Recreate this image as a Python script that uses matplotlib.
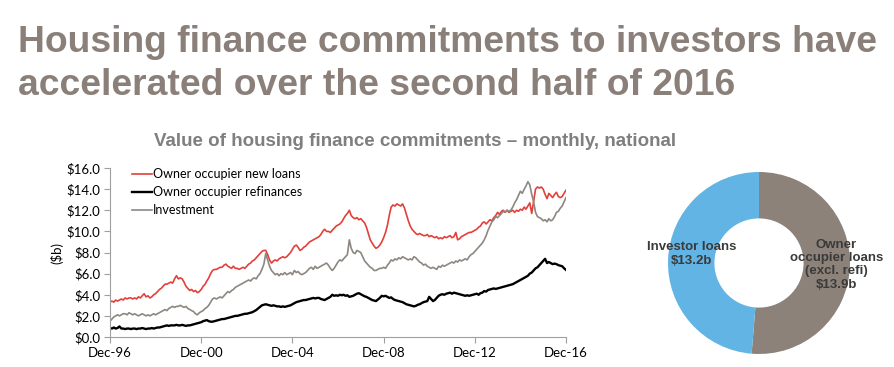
import pandas as pd
import matplotlib.pyplot as plt
import matplotlib.dates as mdates

# monthly values, $b, Dec-96 .. Dec-16 (one row per year, Jan..Dec)
owner_new = [3.3,
    3.4, 3.3, 3.5, 3.4, 3.5, 3.6, 3.5, 3.7, 3.6, 3.7, 3.7, 3.6,
    3.7, 3.6, 3.8, 3.7, 3.9, 4.1, 3.8, 3.9, 3.7, 3.8, 4.0, 4.1,
    4.3, 4.5, 4.6, 4.8, 5.0, 5.0, 5.1, 5.2, 5.1, 5.5, 5.8, 5.5,
    5.6, 5.5, 5.2, 4.8, 4.6, 4.4, 4.5, 4.3, 4.4, 4.2, 4.3, 4.5,
    4.8, 5.0, 5.3, 5.6, 6.0, 6.3, 6.4, 6.4, 6.5, 6.6, 6.6, 6.8,
    6.9, 6.7, 6.6, 6.5, 6.7, 6.5, 6.5, 6.4, 6.5, 6.6, 6.5, 6.7,
    6.9, 7.0, 7.2, 7.3, 7.5, 7.7, 7.9, 8.1, 8.2, 8.2, 7.8, 7.3,
    7.0, 7.2, 7.3, 7.2, 7.4, 7.5, 7.6, 7.5, 7.6, 7.8, 8.0, 8.3,
    8.6, 8.7, 8.5, 8.2, 8.3, 8.5, 8.6, 8.8, 9.0, 9.1, 9.2, 9.3,
    9.4, 9.5, 9.7, 10.0, 10.2, 10.0, 10.0, 9.9, 10.1, 10.3, 10.5, 10.6,
    10.7, 10.9, 11.2, 11.5, 11.7, 12.0, 11.5, 11.3, 11.2, 11.3, 11.1, 11.2,
    11.0, 10.8, 10.4, 9.8, 9.2, 8.9, 8.6, 8.4, 8.5, 8.7, 9.0, 9.4,
    9.9, 10.6, 11.5, 12.3, 12.5, 12.4, 12.6, 12.5, 12.4, 12.6, 12.2, 11.6,
    11.0, 10.5, 10.2, 10.0, 9.8, 9.7, 9.8, 9.7, 9.6, 9.6, 9.7, 9.5,
    9.6, 9.5, 9.4, 9.5, 9.3, 9.4, 9.3, 9.5, 9.4, 9.5, 9.6, 9.4,
    9.5, 9.9, 9.2, 9.3, 9.5, 9.6, 9.7, 9.8, 9.9, 9.9, 10.0, 10.1,
    10.2, 10.4, 10.5, 10.8, 10.9, 10.7, 10.9, 11.1, 11.0, 11.3, 11.5, 11.8,
    11.6, 11.9, 12.0, 11.8, 12.0, 11.8, 11.9, 12.0, 11.8, 12.0, 11.9, 12.1,
    12.0, 12.3, 12.1, 12.4, 12.7, 11.7, 12.8, 14.0, 14.2, 14.1, 14.2, 14.0,
    13.5, 13.1, 13.6, 13.4, 13.2, 13.5, 13.7, 13.3, 13.2, 13.3, 13.6, 13.9]

owner_refi = [0.85,
    0.80, 0.90, 0.80, 0.85, 1.00, 0.80, 0.80, 0.75, 0.80, 0.80, 0.75, 0.80,
    0.80, 0.75, 0.80, 0.80, 0.85, 0.80, 0.75, 0.80, 0.80, 0.85, 0.80, 0.85,
    0.90, 0.90, 0.95, 1.00, 1.05, 1.10, 1.05, 1.10, 1.10, 1.10, 1.15, 1.10,
    1.10, 1.15, 1.10, 1.05, 1.10, 1.10, 1.15, 1.20, 1.25, 1.30, 1.35, 1.40,
    1.50, 1.55, 1.60, 1.50, 1.45, 1.45, 1.50, 1.55, 1.60, 1.65, 1.70, 1.70,
    1.75, 1.80, 1.85, 1.90, 1.95, 2.00, 2.00, 2.05, 2.10, 2.15, 2.20, 2.20,
    2.25, 2.30, 2.35, 2.45, 2.55, 2.70, 2.85, 3.00, 3.05, 3.10, 3.05, 3.00,
    2.95, 3.00, 2.95, 2.90, 2.90, 2.85, 2.90, 2.85, 2.90, 2.95, 3.00, 3.10,
    3.20, 3.30, 3.35, 3.40, 3.45, 3.50, 3.50, 3.55, 3.60, 3.65, 3.70, 3.65,
    3.70, 3.70, 3.60, 3.55, 3.50, 3.60, 3.70, 3.80, 4.00, 3.90, 3.95, 3.90,
    4.00, 3.95, 4.00, 3.90, 3.95, 3.80, 3.85, 3.90, 4.00, 4.10, 4.15, 4.05,
    3.95, 3.85, 3.80, 3.70, 3.60, 3.50, 3.45, 3.40, 3.55, 3.70, 3.90, 3.85,
    3.90, 3.80, 3.70, 3.75, 3.60, 3.50, 3.45, 3.40, 3.35, 3.30, 3.20, 3.10,
    3.05, 3.00, 2.95, 2.90, 2.95, 3.05, 3.10, 3.20, 3.30, 3.35, 3.40, 3.80,
    3.60, 3.40, 3.50, 3.70, 3.90, 4.00, 4.05, 4.00, 4.10, 4.15, 4.20, 4.10,
    4.20, 4.15, 4.10, 4.05, 4.00, 3.95, 3.90, 3.95, 3.90, 3.95, 4.00, 4.05,
    4.10, 4.00, 4.15, 4.20, 4.35, 4.30, 4.45, 4.50, 4.55, 4.60, 4.55, 4.60,
    4.65, 4.70, 4.75, 4.80, 4.85, 4.90, 4.95, 5.00, 5.10, 5.20, 5.30, 5.40,
    5.50, 5.60, 5.70, 5.80, 6.00, 6.10, 6.30, 6.50, 6.60, 6.80, 7.00, 7.20,
    7.40, 7.00, 7.10, 7.00, 6.90, 6.95, 6.90, 6.80, 6.75, 6.70, 6.50, 6.35]

investment = [1.5,
    1.7, 1.9, 2.0, 2.1, 2.0, 2.1, 2.2, 2.2, 2.1, 2.3, 2.2, 2.1,
    2.2, 2.1, 2.0, 2.1, 2.2, 2.1, 2.0, 2.1, 2.0, 2.1, 2.2, 2.1,
    2.2, 2.3, 2.4, 2.5, 2.6, 2.5, 2.7, 2.8, 2.9, 2.8, 2.9, 2.9,
    3.0, 2.9, 2.8, 2.9, 2.7, 2.6, 2.5, 2.4, 2.2, 2.1, 2.3, 2.4,
    2.5, 2.7, 2.8, 3.0, 3.3, 3.6, 3.7, 3.6, 3.7, 3.8, 3.7, 3.9,
    4.1, 4.3, 4.2, 4.4, 4.5, 4.7, 4.8, 4.9, 5.0, 5.1, 5.2, 5.3,
    5.4, 5.3, 5.5, 5.6, 5.5, 5.8, 6.0, 6.4, 6.9, 7.9, 7.3, 6.7,
    6.3, 6.1, 5.9, 6.0, 5.8, 6.0, 5.9, 6.1, 5.9, 6.0, 6.1, 5.9,
    6.3, 6.1, 6.2, 6.0, 5.9, 6.0, 6.1, 6.3, 6.5, 6.6, 6.4, 6.7,
    6.5, 6.6, 6.7, 6.8, 6.9, 7.0, 6.8, 6.5, 6.3, 6.5, 6.8, 7.1,
    7.3, 7.2, 7.4, 7.6, 7.8, 9.2, 8.4, 8.0, 7.9, 8.2, 8.1, 8.0,
    7.6, 7.2, 7.0, 6.8, 6.6, 6.5, 6.3, 6.3, 6.4, 6.5, 6.5, 6.6,
    6.5, 6.8, 7.0, 7.3, 7.2, 7.4, 7.3, 7.5, 7.4, 7.6, 7.5, 7.4,
    7.3, 7.4, 7.3, 7.6, 7.5, 7.3, 7.1, 7.0, 6.8, 6.9, 6.7, 6.6,
    6.5, 6.6, 6.5, 6.4, 6.7, 6.6, 6.8, 6.7, 6.8, 6.9, 7.0, 7.1,
    7.0, 7.2, 7.1, 7.3, 7.2, 7.3, 7.4, 7.3, 7.6, 7.8, 7.9, 8.1,
    8.3, 8.5, 8.7, 8.9, 9.2, 9.6, 10.1, 10.5, 10.9, 11.1, 11.4, 11.3,
    11.5, 11.7, 11.9, 11.8, 12.0, 11.9, 12.0, 12.3, 12.7, 13.0, 13.4, 13.8,
    13.6, 14.0, 14.3, 14.7, 14.4, 13.5, 12.8, 11.8, 11.4, 11.3, 11.2, 11.0,
    11.1, 10.9, 11.2, 11.0, 11.1, 11.4, 11.8, 11.9, 12.2, 12.4, 12.8, 13.2]

series_names = ["Owner occupier new loans", "Owner occupier refinances", "Investment"]
tick_years = [1996, 2000, 2004, 2008, 2012, 2016]
y_ticks = [0, 2, 4, 6, 8, 10, 12, 14, 16]

donut_labels = ["Owner\noccupier loans\n(excl. refi)\n$13.9b", "Investor loans\n$13.2b"]
donut_values = [13.9, 13.2]

months = pd.date_range("1996-12-01", periods=len(owner_new), freq="MS")
df = pd.DataFrame({series_names[0]: owner_new,
                   series_names[1]: owner_refi,
                   series_names[2]: investment}, index=months)

TITLE_GREY = "#8a8079"
fig = plt.figure(figsize=(8.95, 3.67), dpi=100)

fig.text(18 / 895, 1 - 52 / 367, "Housing finance commitments to investors have",
         family="Liberation Sans", fontweight="bold", fontsize=26.8, color=TITLE_GREY)
fig.text(18 / 895, 1 - 95 / 367, "accelerated over the second half of 2016",
         family="Liberation Sans", fontweight="bold", fontsize=26.8, color=TITLE_GREY)
fig.text(415 / 895, 1 - 141 / 367, "Value of housing finance commitments \u2013 monthly, national",
         family="Liberation Sans", fontweight="bold", fontsize=13.5, color="#7f7f7f",
         ha="center", va="center")

# line chart
ax = fig.add_axes([110 / 895, 1 - 337 / 367, 456 / 895, 169 / 367])
colors = ["#e2403a", "#000000", "#8c8781"]
widths = [1.2, 1.7, 1.2]
for name, c, lw in zip(series_names, colors, widths):
    ax.plot(df.index, df[name], color=c, lw=lw, label=name)

ax.set_xlim(months[0], months[-1])
ax.set_ylim(0, 16)
ax.set_yticks(y_ticks)
ax.set_yticklabels([f"${v:.1f}" for v in y_ticks])
ax.set_xticks([pd.Timestamp(f"{y}-12-01") for y in tick_years])
ax.xaxis.set_major_formatter(mdates.DateFormatter("%b-%y"))
for s in ["top", "right"]:
    ax.spines[s].set_visible(False)
for s in ["left", "bottom"]:
    ax.spines[s].set_color("#a0a0a0")
    ax.spines[s].set_linewidth(0.8)
ax.tick_params(axis="both", direction="out", length=4, width=0.8, color="#a0a0a0",
               labelsize=9.5, labelcolor="#000000", pad=3)
for lab in ax.get_xticklabels() + ax.get_yticklabels():
    lab.set_family("Lato")
ax.set_ylabel("($b)", family="Lato", fontsize=9.5, labelpad=2)
ax.patch.set_alpha(0)

leg = ax.legend(loc="upper left", bbox_to_anchor=(132 / 895, 1 - 168 / 367),
                bbox_transform=fig.transFigure, frameon=False, borderpad=0,
                borderaxespad=0, handlelength=1.6, handletextpad=0.1,
                labelspacing=0.5, prop={"family": "Lato", "size": 9})

# donut
ax2 = fig.add_axes([668 / 895, 1 - 354 / 367, 182 / 895, 182 / 367])
ax2.pie(donut_values, colors=["#8c8279", "#62b4e4"], startangle=90, counterclock=False,
        radius=1, wedgeprops=dict(width=0.51, linewidth=0))
ax2.set_xlim(-1, 1)
ax2.set_ylim(-1, 1)
ax2.set_aspect("equal")
ax2.axis("off")
ax2.text(0.85, -0.02, donut_labels[0], ha="center", va="center", family="Liberation Sans",
         fontweight="bold", fontsize=9.5, color="#3a3a3a", linespacing=1.15)
ax2.text(-0.74, 0.10, donut_labels[1], ha="center", va="center", family="Liberation Sans",
         fontweight="bold", fontsize=9.5, color="#3a3a3a", linespacing=1.15)

fig.savefig("out.png", dpi=100)
